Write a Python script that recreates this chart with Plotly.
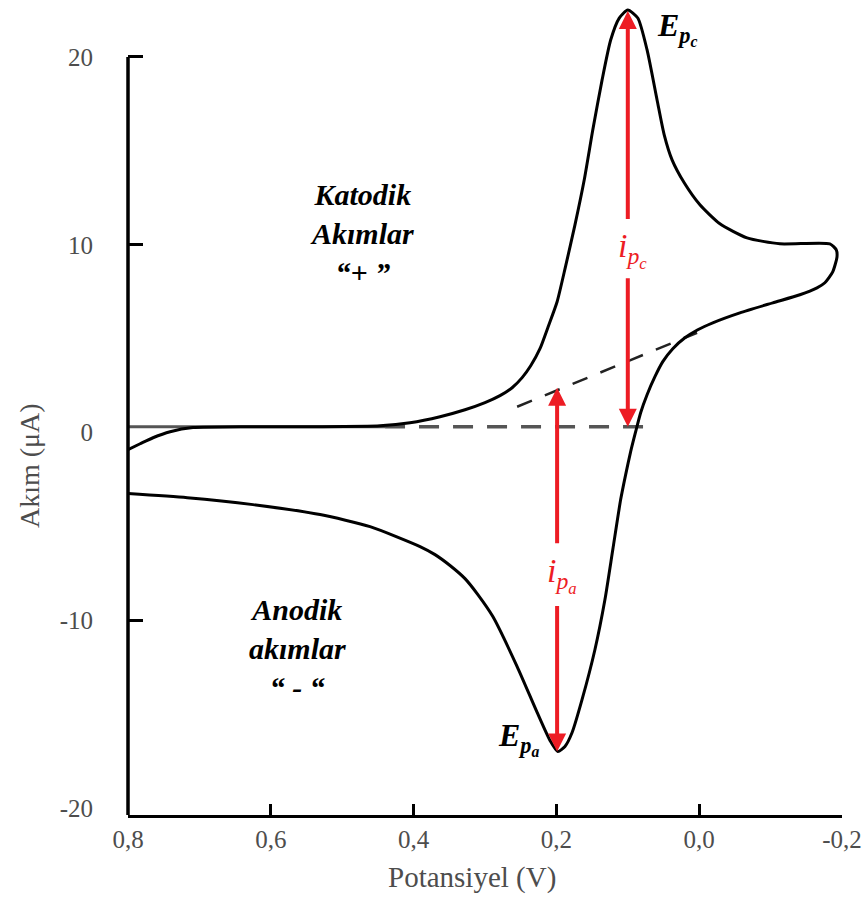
import plotly.graph_objects as go

# ---- data ----
# forward (cathodic) scan: 0.8 V -> -0.2 V
x_fwd = [0.800, 0.783, 0.765, 0.741, 0.709, 0.629, 0.531, 0.447, 0.405, 0.363, 0.328,
         0.300, 0.279, 0.262, 0.248, 0.236, 0.223, 0.212, 0.199, 0.187, 0.174, 0.161,
         0.149, 0.136, 0.124, 0.112, 0.100, 0.086, 0.073, 0.059, 0.049, 0.038, 0.021,
         -0.001, -0.029, -0.067, -0.113, -0.183, -0.192]
y_fwd = [-0.90, -0.59, -0.27, 0.05, 0.27, 0.32, 0.32, 0.37, 0.53, 0.85, 1.22,
         1.60, 1.97, 2.39, 2.93, 3.56, 4.47, 5.59, 6.97, 8.88, 11.06, 13.46,
         16.12, 18.78, 20.90, 22.07, 22.50, 22.07, 20.37, 17.71, 15.85, 14.52, 13.30,
         12.13, 11.12, 10.37, 10.05, 10.05, 9.73]
# reverse (anodic) scan: -0.2 V -> 0.8 V
x_rev = [-0.193, -0.187, -0.176, -0.165, -0.141, -0.103, -0.057, -0.019, 0.002, 0.020,
         0.037, 0.051, 0.062, 0.073, 0.082, 0.089, 0.096, 0.103, 0.110, 0.121, 0.132,
         0.146, 0.164, 0.178, 0.188, 0.198, 0.209, 0.227, 0.255, 0.289, 0.310, 0.328,
         0.349, 0.370, 0.391, 0.461, 0.531, 0.625, 0.717, 0.800]
y_rev = [9.36, 8.56, 7.98, 7.71, 7.34, 6.91, 6.38, 5.85, 5.48, 5.05,
         4.47, 3.78, 2.98, 2.02, 1.06, 0.05, -1.01, -2.23, -3.56, -6.22, -8.88,
         -11.54, -14.20, -15.96, -16.70, -16.97, -16.38, -14.89, -12.45, -9.79, -8.62, -7.77,
         -7.07, -6.49, -6.06, -5.00, -4.36, -3.83, -3.46, -3.24]

# baseline (solid part, dashed part) and extrapolated baseline
base_solid_x = [0.800, 0.440]
base_solid_y = [0.32, 0.32]
base_dash_x = [0.440, 0.069]
base_dash_y = [0.32, 0.32]
extrap_x = [0.255, 0.003]
extrap_y = [1.38, 5.32]

# peak markers
E_pc = (0.100, 22.45)
E_pa = (0.199, -16.97)
ipc_base = 0.32
ipa_base = 2.39

x_tickvals = [0.8, 0.6, 0.4, 0.2, 0.0, -0.2]
x_ticktext = ["0,8", "0,6", "0,4", "0,2", "0,0", "-0,2"]
y_tickvals = [20, 10, 0, -10, -20]
y_ticktext = ["20", "10", "0", "-10", "-20"]
y_marks = [20, 10, -10]

RED = "#ED1C24"
GREY = "#4d4d4d"
SERIF = "Liberation Serif"

fig = go.Figure()
fig.add_trace(go.Scatter(x=base_solid_x, y=base_solid_y, mode="lines",
                         line=dict(color="#555555", width=3), hoverinfo="skip"))
fig.add_trace(go.Scatter(x=base_dash_x, y=base_dash_y, mode="lines",
                         line=dict(color="#555555", width=3.5, dash="20px,14px"), hoverinfo="skip"))
fig.add_trace(go.Scatter(x=extrap_x, y=extrap_y, mode="lines",
                         line=dict(color="#222222", width=2.5, dash="16px,14px"), hoverinfo="skip"))
fig.add_trace(go.Scatter(x=x_fwd + x_rev, y=y_fwd + y_rev, mode="lines",
                         line=dict(color="black", width=3, shape="spline", smoothing=0.6)))

# red arrows (i_pc and i_pa), broken around their labels
def arrow(x, y_head, y_tail):
    fig.add_annotation(x=x, y=y_head, ax=x, ay=y_tail, xref="x", yref="y",
                       axref="x", ayref="y", text="", showarrow=True,
                       arrowhead=2, arrowsize=0.9, arrowwidth=4, arrowcolor=RED)

arrow(E_pc[0], E_pc[1], 11.3)
arrow(E_pc[0], ipc_base, 8.3)
arrow(E_pa[0], ipa_base, -5.96)
arrow(E_pa[0], E_pa[1], -9.15)

fig.add_annotation(x=0.093, y=9.7, xref="x", yref="y", showarrow=False,
                   text="<i>i<sub>p<sub>c</sub></sub></i>",
                   font=dict(family=SERIF, size=34, color=RED))
fig.add_annotation(x=0.192, y=-7.6, xref="x", yref="y", showarrow=False,
                   text="<i>i<sub>p<sub>a</sub></sub></i>",
                   font=dict(family=SERIF, size=34, color=RED))
fig.add_annotation(x=0.062, y=21.5, xref="x", yref="y", showarrow=False, xanchor="left",
                   text="<b><i>E<sub>p<sub>c</sub></sub></i></b>",
                   font=dict(family=SERIF, size=32, color="black"))
fig.add_annotation(x=0.284, y=-16.3, xref="x", yref="y", showarrow=False, xanchor="left",
                   text="<b><i>E<sub>p<sub>a</sub></sub></i></b>",
                   font=dict(family=SERIF, size=32, color="black"))

fig.add_annotation(x=0.472, y=10.6, xref="x", yref="y", showarrow=False,
                   text="<b><i>Katodik<br>Akımlar<br>“+ ”</i></b>",
                   font=dict(family=SERIF, size=30, color="black"))
fig.add_annotation(x=0.563, y=-11.5, xref="x", yref="y", showarrow=False,
                   text="<b><i>Anodik<br>akımlar<br>“ - “</i></b>",
                   font=dict(family=SERIF, size=30, color="black"))

# axis titles
fig.add_annotation(x=0.4818, y=-0.0761, xref="paper", yref="paper", showarrow=False,
                   xanchor="center", yanchor="middle",
                   text="Potansiyel (V)", font=dict(family=SERIF, size=29, color=GREY))
fig.add_annotation(x=-0.1387, y=0.4294, xref="paper", yref="paper", showarrow=False,
                   xanchor="center", yanchor="middle",
                   textangle=-90, text="Akım (μA)", font=dict(family=SERIF, size=28, color=GREY))

# y axis line only up to 20
fig.add_shape(type="line", xref="paper", yref="paper", x0=0, x1=0, y0=0, y1=0.9302,
              line=dict(color="black", width=3.5))

fig.update_xaxes(range=[0.8, -0.2], tickvals=x_tickvals, ticktext=x_ticktext,
                 showgrid=False, zeroline=False, showline=True, linecolor="black",
                 linewidth=3, ticks="inside", ticklen=11, tickwidth=2.5, tickcolor="black",
                 ticklabelstandoff=0,
                 tickfont=dict(family=SERIF, size=25, color=GREY))
fig.update_yaxes(range=[-20.35, 23.03], tickvals=y_tickvals, ticktext=y_ticktext,
                 showgrid=False, zeroline=False, showline=False, ticks="",
                 ticklabelstandoff=34,
                 minor=dict(tickvals=y_marks, ticks="inside", ticklen=15, tickwidth=3,
                            tickcolor="black", showgrid=False),
                 tickfont=dict(family=SERIF, size=25, color=GREY))

fig.update_layout(width=866, height=897, autosize=False,
                  margin=dict(l=128, r=24, t=0, b=82),
                  plot_bgcolor="white", paper_bgcolor="white", showlegend=False)

fig.write_html("out.html")
